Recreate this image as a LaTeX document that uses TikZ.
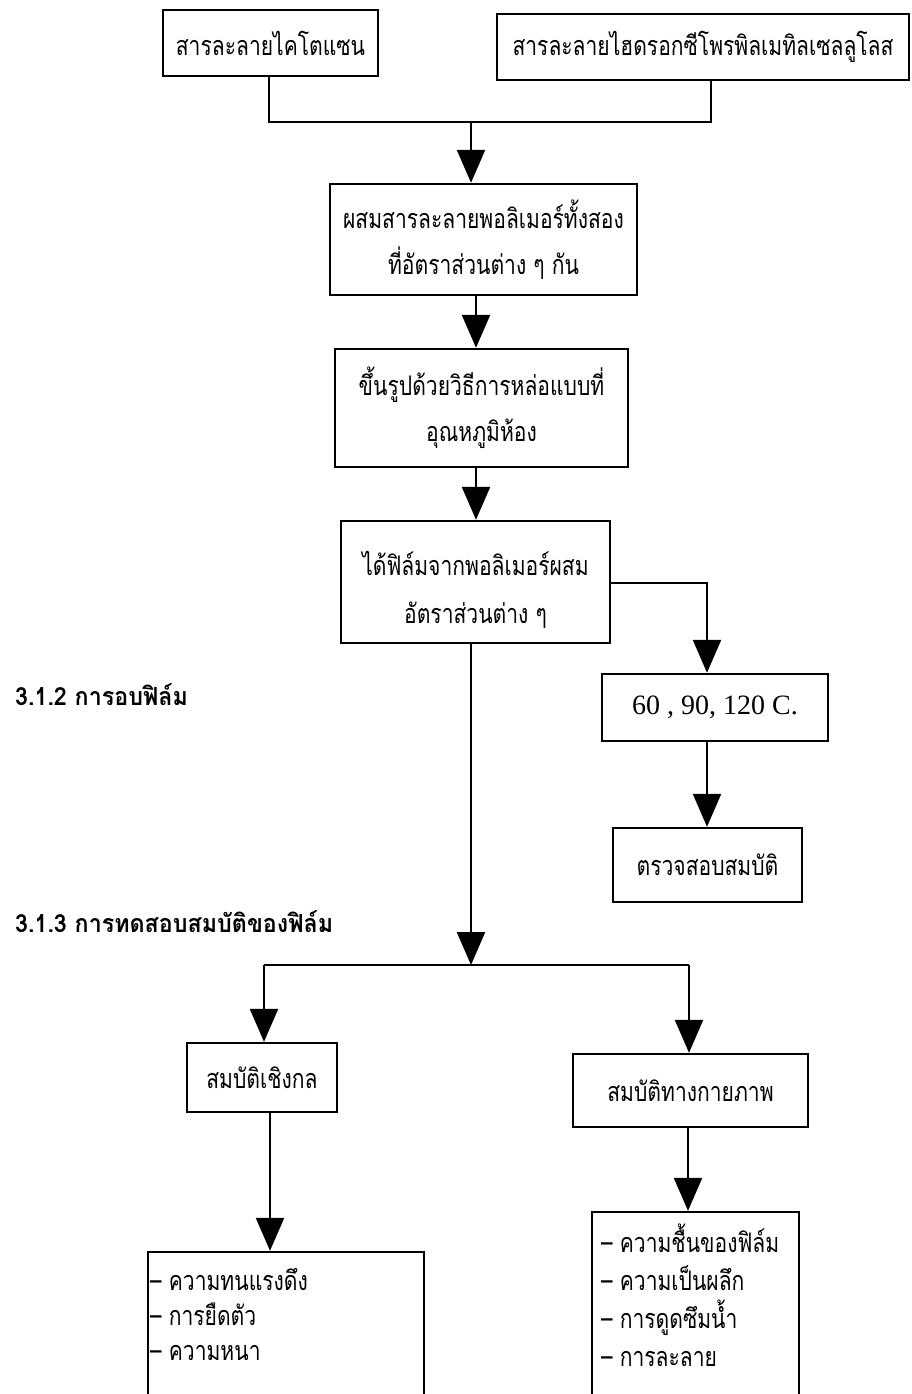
\documentclass[tikz,border=0pt]{standalone}
\usepackage{fontspec}
\usetikzlibrary{arrows.meta}
\newfontfamily\thai[Script=Thai,FakeStretch=0.78]{Loma}
\newfontfamily\thaisect[Script=Thai,FakeStretch=0.93]{Loma}
\newfontfamily\thaiserif{Liberation Serif}
\tikzset{
  box/.style={draw, line width=2.4pt, inner sep=0pt, font=\thai\fontsize{27}{46}\selectfont, align=center},
  conn/.style={line width=2.4pt},
  arr/.style={line width=2.4pt, -{Triangle[length=33pt,width=28pt]}},
  sect/.style={anchor=west, inner sep=0pt, font=\thaisect\bfseries\fontsize{25}{28}\selectfont},
  lst/.style={anchor=north west, inner sep=0pt, align=left, font=\thai\fontsize{27}{35}\selectfont},
  txt/.style={inner sep=0pt, align=center, font=\thai\fontsize{27}{48}\selectfont}
}
\begin{document}
\begin{tikzpicture}[x=1pt,y=-1pt]
\useasboundingbox[fill=white] (0,0) rectangle (911,1394);
% boxes
\node[box, minimum width=215pt, minimum height=66pt] (b1) at (270.5,43) {สารละลายไคโตแซน};
\node[box, minimum width=412pt, minimum height=66pt] (b2) at (703,47) {สารละลายไฮดรอกซีโพรพิลเมทิลเซลลูโลส};
\node[box, minimum width=307pt, minimum height=111pt] (b3) at (483.5,239.5) {ผสมสารละลายพอลิเมอร์ทั้งสอง\\ที่อัตราส่วนต่าง ๆ กัน};
\node[box, minimum width=293pt, minimum height=118pt] (b4) at (481.5,408) {ขึ้นรูปด้วยวิธีการหล่อแบบที่\\อุณหภูมิห้อง};
\node[box, minimum width=269pt, minimum height=122pt] (b5) at (475.5,582) {};
\node[txt] (b5t) at (475.5,590) {ได้ฟิล์มจากพอลิเมอร์ผสม\\อัตราส่วนต่าง ๆ};
\node[box, minimum width=226pt, minimum height=67pt, font=\thaiserif\fontsize{28}{30}\selectfont] (b6) at (715,707.5) {60 , 90, 120 C.};
\node[box, minimum width=189pt, minimum height=74pt] (b7) at (707.5,865) {ตรวจสอบสมบัติ};
\node[box, minimum width=150pt, minimum height=69pt] (b8) at (262,1077.5) {สมบัติเชิงกล};
\node[box, minimum width=235pt, minimum height=73pt] (b9) at (690.5,1090.5) {สมบัติทางกายภาพ};
\node[box, minimum width=276pt, minimum height=168pt] (b10) at (286,1336) {};
\node[box, minimum width=207pt, minimum height=208pt] (b11) at (695.5,1316) {};
\node[lst] (t10) at (150,1268) {– ความทนแรงดึง\\– การยืดตัว\\– ความหนา};
\node[lst, font=\thai\fontsize{27}{38}\selectfont] (t11) at (601,1224) {– ความชื้นของฟิล์ม\\– ความเป็นผลึก\\– การดูดซึมน้ำ\\– การละลาย};
% section labels
\node[sect] (s1) at (15,695) {3.1.2 การอบฟิล์ม};
\node[sect] (s2) at (15,922) {3.1.3 การทดสอบสมบัติของฟิล์ม};
% connectors
\coordinate (j1) at (471,122);
\coordinate (j2) at (471,965);
\coordinate (jl) at (264,965);
\coordinate (jr) at (689,965);
\coordinate (c5) at (707,583);
\draw[conn] (b1.south -| 269,0) |- (j1) -| (b2.south -| 711,0);
\draw[arr] (j1) -- (b3.north -| j1);
\draw[arr] (b3.south -| 476,0) -- (b4.north -| 476,0);
\draw[arr] (b4.south -| 476,0) -- (b5.north -| 476,0);
\draw[arr] (b5.east |- c5) -- (c5) -- (b6.north -| c5);
\draw[arr] (b6.south -| c5) -- (b7.north -| c5);
\draw[arr] (b5.south -| j2) -- (j2);
\draw[conn] (jl) -- (jr);
\draw[arr] (jl) -- (b8.north -| jl);
\draw[arr] (jr) -- (b9.north -| jr);
\draw[arr] (b8.south -| 270,0) -- (b10.north -| 270,0);
\draw[arr] (b9.south -| 688,0) -- (b11.north -| 688,0);
\end{tikzpicture}
\end{document}
